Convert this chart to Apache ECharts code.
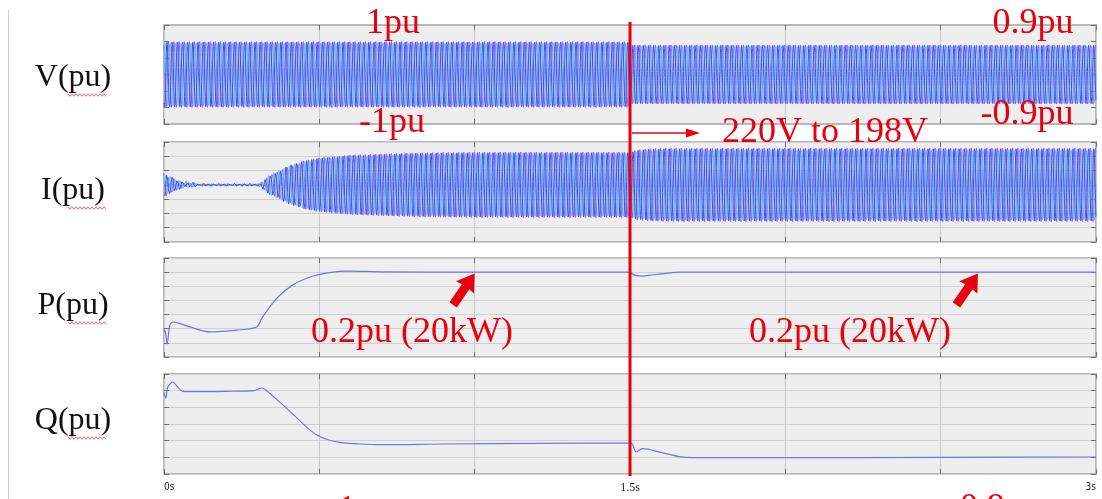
<!DOCTYPE html>
<html>
<head>
<meta charset="utf-8">
<script src="https://cdn.jsdelivr.net/npm/echarts@6/dist/echarts.min.js"></script>
<style>
  html, body { margin: 0; padding: 0; background: #ffffff; }
  #chart { width: 1102px; height: 499px; }
</style>
</head>
<body>
<div id="chart"></div>
<script>
// ---- time base ----
const timeMin = 0;
const timeMax = 3;
const timeStep = 0.5;
const stepTime = 1.5;          // grid voltage step 220V -> 198V
const lineFreq = 60;           // Hz
const samplesPerCycle = 20;

// ---- phase voltage envelope (pu) ----
const vEnvT = [0, 1.5, 1.5, 3];
const vEnvA = [1, 1, 0.9, 0.9];

// ---- phase current envelope (pu) ----
const iEnvT = [0, 0.02, 0.035, 0.06, 0.085, 0.12, 0.3, 0.31, 0.34, 0.37, 0.405, 0.45, 0.5, 0.6, 0.8, 1.0, 1.5, 1.52, 1.56, 1.62, 3];
const iEnvA = [0.09, 0.06, 0.045, 0.03, 0.02, 0.01, 0.01, 0.015, 0.07, 0.105, 0.14, 0.17, 0.19, 0.21, 0.225, 0.23, 0.23, 0.245, 0.254, 0.258, 0.258];

// ---- active power P (pu) ----
const pT = [0, 0.003, 0.01, 0.019, 0.029, 0.05, 0.084, 0.148, 0.235, 0.299, 0.315, 0.364, 0.415, 0.48, 0.544, 0.589, 0.7, 1.0, 1.5, 1.505, 1.52, 1.54, 1.57, 1.61, 1.66, 2.0, 2.5, 3.0];
const pV = [0.03, 0.036, -0.003, 0.05, 0.059, 0.055, 0.045, 0.031, 0.036, 0.045, 0.07, 0.127, 0.164, 0.189, 0.2, 0.203, 0.201, 0.2, 0.2, 0.196, 0.19, 0.189, 0.192, 0.196, 0.2, 0.2, 0.2, 0.2];

// ---- reactive power Q (pu) ----
const qT = [0, 0.006, 0.012, 0.028, 0.045, 0.06, 0.1, 0.2, 0.29, 0.315, 0.33, 0.37, 0.42, 0.46, 0.49, 0.53, 0.57, 0.63, 0.7, 0.9, 1.2, 1.49, 1.505, 1.52, 1.54, 1.6, 1.66, 1.7, 2.0, 2.5, 3.0];
const qV = [0.045, 0.028, 0.06, 0.076, 0.06, 0.048, 0.047, 0.048, 0.05, 0.058, 0.05, 0.018, -0.025, -0.06, -0.082, -0.098, -0.106, -0.11, -0.112, -0.11, -0.108, -0.107, -0.108, -0.134, -0.124, -0.135, -0.148, -0.151, -0.151, -0.15, -0.149];

// ---- panel labels and axis ranges ----
const panelNames = ['V(pu)', 'I(pu)', 'P(pu)', 'Q(pu)'];
const yRanges = [
  { min: -1.5, max: 1.5, interval: 0.5 },
  { min: -0.4, max: 0.3, interval: 0.1 },
  { min: -0.04, max: 0.24, interval: 0.04 },
  { min: -0.2, max: 0.1, interval: 0.05 }
];
const timeTickLabels = { 0: '0s', 1.5: '1.5s', 3: '3s' };

const phaseColors = ['#45d4f0', '#4a4cf0', '#a656ea'];
const traceColor = '#7474dc';
const red = '#e8000e';

// piecewise-linear envelope lookup
function envelope(ts, as, t) {
  if (t <= ts[0]) return as[0];
  for (let k = 1; k < ts.length; k++) {
    if (t < ts[k]) {
      const t0 = ts[k - 1], t1 = ts[k];
      const f = t1 > t0 ? (t - t0) / (t1 - t0) : 1;
      return as[k - 1] + (as[k] - as[k - 1]) * f;
    }
  }
  return as[as.length - 1];
}

// three-phase AC trace with the given envelope
function phaseTrace(ts, as, phaseIdx) {
  const n = Math.round((timeMax - timeMin) * lineFreq * samplesPerCycle);
  const out = [];
  const shift = phaseIdx * 2 * Math.PI / 3;
  for (let k = 0; k <= n; k++) {
    const t = timeMin + (timeMax - timeMin) * k / n;
    out.push([t, envelope(ts, as, t) * Math.sin(2 * Math.PI * lineFreq * t - shift)]);
  }
  return out;
}

function pairs(ts, vs) { return ts.map((t, k) => [t, vs[k]]); }

const gridTops = [25, 142, 258, 374];
const gridHeights = [99, 100, 99, 100];
const gridLeft = 164, gridWidth = 932;

const grids = gridTops.map((top, g) => ({
  left: gridLeft, top: top, width: gridWidth, height: gridHeights[g],
  show: true, backgroundColor: '#eeeeee', borderColor: '#a4a4a4', borderWidth: 1.5
}));

const tickStyle = { show: true, inside: true, length: 5, lineStyle: { color: '#707070' } };
const xAxes = [];
const yAxes = [];
for (let g = 0; g < 4; g++) {
  xAxes.push({
    type: 'value', gridIndex: g, position: 'bottom', min: timeMin, max: timeMax, interval: timeStep,
    axisLine: { show: false, onZero: false },
    axisTick: tickStyle,
    splitLine: { show: true, lineStyle: { color: '#c9c9c9', width: 1 } },
    axisLabel: g === 3 ? {
      show: true, margin: 8, showMinLabel: true, showMaxLabel: true,
      alignMinLabel: 'left', alignMaxLabel: 'right',
      formatter: v => {
        const s = timeTickLabels[Math.round(v * 10) / 10];
        if (!s) return '';
        return s === '1.5s' ? '{b|' + s + '}' : '{a|' + s + '}';
      },
      rich: {
        a: { fontFamily: 'DejaVu Sans Condensed', fontSize: 10, color: '#222' },
        b: { fontFamily: 'Liberation Serif', fontSize: 12, color: '#222' }
      }
    } : { show: false }
  });
  yAxes.push({
    type: 'value', gridIndex: g, position: 'left', min: yRanges[g].min, max: yRanges[g].max, interval: yRanges[g].interval,
    axisLine: { show: false, onZero: false },
    axisTick: tickStyle,
    splitLine: { show: g !== 0, lineStyle: { color: '#d0d0d0', width: 1 } },
    axisLabel: { show: false }
  });
}
// mirrored tick rows on the top and right edges of every panel
for (let g = 0; g < 4; g++) {
  xAxes.push({
    type: 'value', gridIndex: g, position: 'top', min: timeMin, max: timeMax, interval: timeStep,
    axisLine: { show: false, onZero: false }, splitLine: { show: false }, axisLabel: { show: false },
    axisTick: tickStyle
  });
  yAxes.push({
    type: 'value', gridIndex: g, position: 'right', min: yRanges[g].min, max: yRanges[g].max, interval: yRanges[g].interval,
    axisLine: { show: false, onZero: false }, splitLine: { show: false }, axisLabel: { show: false },
    axisTick: tickStyle
  });
}

const series = [];
function addWave(gridIdx, ts, as) {
  [2, 0, 1].forEach(ph => {
    series.push({
      type: 'line', xAxisIndex: gridIdx, yAxisIndex: gridIdx,
      data: phaseTrace(ts, as, ph), showSymbol: false, symbol: 'none',
      lineStyle: { color: phaseColors[ph], width: 1 }, silent: true
    });
  });
}
addWave(0, vEnvT, vEnvA);
addWave(1, iEnvT, iEnvA);
series.push({
  type: 'line', xAxisIndex: 2, yAxisIndex: 2, data: pairs(pT, pV), showSymbol: false, symbol: 'none',
  smooth: 0.3, lineStyle: { color: traceColor, width: 1.2 }
});
series.push({
  type: 'line', xAxisIndex: 3, yAxisIndex: 3, data: pairs(qT, qV), showSymbol: false, symbol: 'none',
  smooth: 0.3, lineStyle: { color: traceColor, width: 1.2 }
});

const chart = echarts.init(document.getElementById('chart'), null, { renderer: 'canvas' });
chart.setOption({
  animation: false,
  backgroundColor: '#ffffff',
  grid: grids, xAxis: xAxes, yAxis: yAxes, series: series
});

// ---- annotations ----
const px = (g, t, v) => chart.convertToPixel({ xAxisIndex: g, yAxisIndex: g }, [t, v]);
const stepX = px(0, stepTime, 0)[0];
const topY = px(0, 0, yRanges[0].max)[1] - 3;
const botY = px(3, 0, yRanges[3].min)[1] + 2;

const serif = 'Liberation Serif';
function redText(str, x, y, align) {
  return {
    type: 'text', z: 20, silent: true,
    style: { text: str, x: x, y: y, fill: red, font: '36px "' + serif + '"', align: align || 'center', verticalAlign: 'middle' }
  };
}

// block arrow pointing from tail toward tip
function blockArrow(tip, dir) {
  const len = Math.hypot(dir[0], dir[1]);
  const v = [dir[0] / len, dir[1] / len];
  const u = [-v[1], v[0]];
  const local = [[0, 0], [11, 17], [4.5, 16], [4.5, 38], [-4.5, 38], [-4.5, 16], [-11, 17]];
  const pts = local.map(p => [tip[0] + p[0] * u[0] + p[1] * v[0], tip[1] + p[0] * u[1] + p[1] * v[1]]);
  return { type: 'polygon', z: 20, silent: true, shape: { points: pts }, style: { fill: red } };
}

// spell-check squiggle under a word
function squiggle(x0, x1, y) {
  const pts = [];
  let k = 0;
  for (let x = x0; x <= x1; x += 2, k++) pts.push([x, y + (k % 2 ? 1.3 : -1.3)]);
  return { type: 'polyline', z: 20, silent: true, shape: { points: pts }, style: { stroke: '#e04040', lineWidth: 0.8, fill: null } };
}

const graphics = [];
// left page rule
graphics.push({ type: 'line', silent: true, shape: { x1: 8.5, y1: 10, x2: 8.5, y2: 499 }, style: { stroke: '#c8c8c8', lineWidth: 1 } });

// panel names
const nameY = [78, 191, 306, 421];
panelNames.forEach((name, g) => {
  graphics.push({
    type: 'text', silent: true,
    style: { text: name, x: 73, y: nameY[g], fill: '#111', font: '32px "' + serif + '"', align: 'center', verticalAlign: 'middle' }
  });
  graphics.push(squiggle(68, 106, nameY[g] + 17));
});

// step marker
graphics.push({ type: 'line', z: 18, silent: true, shape: { x1: stepX, y1: topY, x2: stepX, y2: botY }, style: { stroke: red, lineWidth: 3 } });
graphics.push({ type: 'line', z: 20, silent: true, shape: { x1: stepX + 2, y1: 133, x2: 688, y2: 133 }, style: { stroke: red, lineWidth: 1.5 } });
graphics.push({ type: 'polygon', z: 20, silent: true, shape: { points: [[700, 133], [686, 128.5], [686, 137.5]] }, style: { fill: red } });

graphics.push(redText('1pu', 393, 24));
graphics.push(redText('-1pu', 392, 123));
graphics.push(redText('0.9pu', 1033, 24));
graphics.push(redText('-0.9pu', 1027, 115));
graphics.push(redText('220V to 198V', 825, 133));
graphics.push(redText('0.2pu (20kW)', 412, 333));
graphics.push(redText('0.2pu (20kW)', 850, 333));
graphics.push(redText('1pu', 338, 511, 'left'));
graphics.push(redText('0.9pu', 960, 509, 'left'));

// arrows pointing at the settled power level
const tipA = px(2, 1.0, 0.196);
const tipB = px(2, 2.62, 0.196);
graphics.push(blockArrow(tipA, [-22, 32]));
graphics.push(blockArrow(tipB, [-22, 32]));

chart.setOption({ graphic: graphics });
</script>
</body>
</html>
